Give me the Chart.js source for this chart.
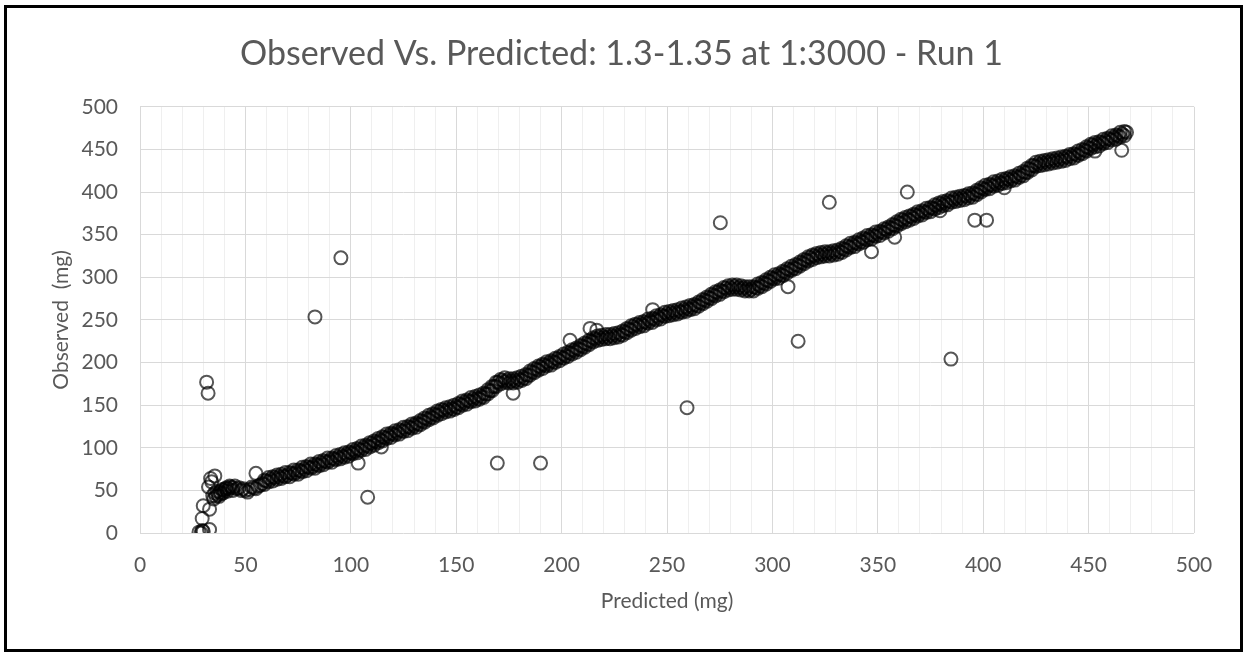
<!DOCTYPE html>
<html>
<head>
<meta charset="utf-8">
<title>Observed Vs. Predicted</title>
<script src="https://cdn.jsdelivr.net/npm/chart.js@4.4.1/dist/chart.umd.min.js"></script>
<style>
  html, body { margin: 0; padding: 0; background: #fff; }
  #wrap { position: relative; width: 1247px; height: 652px; }
  #frame {
    position: absolute; left: 4px; top: 5px; width: 1233px; height: 641px;
    border: 3px solid #000; pointer-events: none;
  }
</style>
</head>
<body>
<div id="wrap">
  <canvas id="scatter" width="1247" height="652"></canvas>
  <div id="frame"></div>
</div>
<script>
// main run of samples (predicted vs observed, mg)
const runPredicted = [
  34.5, 35, 35.5, 36, 36.5, 37, 38, 39, 40, 41,
  42, 43, 44, 46, 48, 50, 52, 54, 56, 58,
  60, 62, 64, 66, 68, 70, 72, 74, 76, 78,
  80, 82, 84, 86, 88, 90, 92, 94, 96, 98,
  100, 102, 104, 106, 108, 110, 112, 114, 116, 118,
  120, 122, 124, 126, 128, 130, 132, 134, 136, 138,
  140, 142, 144, 146, 148, 150, 152, 154, 156, 158,
  160, 162, 164, 166, 168, 170, 172, 174, 176, 178,
  180, 182, 184, 186, 188, 190, 192, 194, 196, 198,
  200, 202, 204, 206, 208, 210, 212, 214, 216, 218,
  220, 222, 224, 226, 228, 230, 232, 234, 236, 238,
  240, 242, 244, 246, 248, 250, 252, 254, 256, 258,
  260, 262, 264, 266, 268, 270, 272, 274, 276, 278,
  280, 282, 284, 286, 288, 290, 292, 294, 296, 298,
  300, 302, 304, 306, 308, 310, 312, 314, 316, 318,
  320, 322, 324, 326, 328, 330, 332, 334, 336, 338,
  340, 342, 344, 346, 348, 350, 352, 354, 356, 358,
  360, 362, 364, 366, 368, 370, 372, 374, 376, 378,
  380, 382, 384, 386, 388, 390, 392, 394, 396, 398,
  400, 402, 404, 406, 408, 410, 412, 414, 416, 418,
  420, 422, 424, 426, 428, 430, 432, 434, 436, 438,
  440, 442, 444, 446, 448, 450, 452, 454, 456, 458,
  460, 462, 464, 466, 468
];
const runObserved = [
  44, 40, 47, 43, 49, 45, 48, 51, 50, 53,
  52, 54, 53, 52, 50, 50, 51, 53, 55, 58,
  61, 63, 65, 66, 67, 68, 70, 71, 73, 75,
  77, 78, 80, 82, 84, 85, 87, 89, 90, 92,
  94, 96, 98, 100, 102, 105, 107, 109, 112, 114,
  116, 118, 120, 122, 124, 126, 128, 131, 134, 136,
  139, 142, 144, 145, 146, 148, 151, 153, 155, 157,
  158, 160, 163, 167, 172, 177, 179, 179, 178, 179,
  180, 182, 185, 189, 192, 195, 197, 199, 201, 204,
  206, 208, 211, 214, 216, 219, 222, 225, 228, 229,
  230, 230, 231, 232, 233, 236, 239, 242, 244, 245,
  247, 249, 251, 253, 255, 257, 258, 259, 260, 262,
  263, 265, 267, 270, 273, 276, 279, 282, 284, 287,
  288, 289, 288, 287, 286, 286, 288, 290, 293, 296,
  299, 301, 303, 306, 309, 311, 314, 317, 320, 323,
  325, 326, 327, 328, 328, 329, 330, 333, 336, 338,
  340, 342, 345, 347, 349, 351, 353, 356, 358, 361,
  364, 367, 368, 371, 373, 375, 377, 379, 381, 384,
  386, 387, 389, 391, 392, 393, 395, 396, 398, 401,
  404, 406, 408, 410, 411, 413, 415, 416, 418, 420,
  423, 427, 431, 433, 434, 435, 436, 437, 438, 439,
  441, 442, 444, 446, 449, 452, 455, 456, 458, 460,
  462, 464, 466, 468, 470
];

// extra readings at the low end of the run
const startPredicted = [
  37.5, 38.5, 39.5, 40.5, 41.5, 42.5, 44, 45, 47, 49,
  51, 53, 55, 57
];
const startObserved = [
  43, 46, 47, 52, 49, 55, 50, 55, 53, 52,
  48, 54, 52, 56
];

// samples between the ones above; two readings at each predicted value
const runPredicted2 = [
  59, 61, 63, 65, 67, 69, 71, 73, 75, 77,
  79, 81, 83, 85, 87, 89, 91, 93, 95, 97,
  99, 101, 103, 105, 107, 109, 111, 113, 115, 117,
  119, 121, 123, 125, 127, 129, 131, 133, 135, 137,
  139, 141, 143, 145, 147, 149, 151, 153, 155, 157,
  159, 161, 163, 165, 167, 169, 171, 173, 175, 177,
  179, 181, 183, 185, 187, 189, 191, 193, 195, 197,
  199, 201, 203, 205, 207, 209, 211, 213, 215, 217,
  219, 221, 223, 225, 227, 229, 231, 233, 235, 237,
  239, 241, 243, 245, 247, 249, 251, 253, 255, 257,
  259, 261, 263, 265, 267, 269, 271, 273, 275, 277,
  279, 281, 283, 285, 287, 289, 291, 293, 295, 297,
  299, 301, 303, 305, 307, 309, 311, 313, 315, 317,
  319, 321, 323, 325, 327, 329, 331, 333, 335, 337,
  339, 341, 343, 345, 347, 349, 351, 353, 355, 357,
  359, 361, 363, 365, 367, 369, 371, 373, 375, 377,
  379, 381, 383, 385, 387, 389, 391, 393, 395, 397,
  399, 401, 403, 405, 407, 409, 411, 413, 415, 417,
  419, 421, 423, 425, 427, 429, 431, 433, 435, 437,
  439, 441, 443, 445, 447, 449, 451, 453, 455, 457,
  459, 461, 463, 465, 467
];
const runObserved2 = [
  62, 60, 66, 63, 69, 66, 71, 69, 74, 72,
  78, 76, 81, 79, 85, 83, 88, 86, 92, 89,
  95, 93, 99, 97, 103, 101, 108, 106, 113, 111,
  117, 115, 121, 119, 125, 123, 129, 127, 135, 133,
  140, 138, 145, 142, 148, 145, 152, 150, 156, 154,
  160, 157, 164, 163, 172, 172, 180, 177, 181, 176,
  182, 179, 186, 185, 193, 191, 198, 196, 202, 200,
  207, 205, 212, 210, 217, 215, 223, 221, 229, 226,
  232, 228, 233, 229, 235, 232, 240, 238, 245, 242,
  248, 246, 252, 250, 256, 254, 260, 256, 262, 259,
  265, 262, 268, 266, 274, 272, 280, 278, 285, 283,
  290, 286, 291, 285, 289, 284, 289, 287, 294, 292,
  300, 298, 304, 302, 310, 308, 315, 313, 321, 319,
  326, 323, 329, 325, 330, 326, 332, 329, 337, 335,
  341, 339, 346, 344, 350, 348, 354, 352, 359, 357,
  365, 363, 370, 367, 374, 372, 378, 376, 382, 380,
  387, 384, 390, 388, 394, 390, 396, 393, 399, 397,
  405, 403, 409, 407, 413, 410, 416, 413, 419, 417,
  424, 423, 431, 430, 436, 432, 438, 434, 440, 436,
  442, 439, 445, 443, 450, 448, 456, 453, 459, 457,
  463, 461, 467, 465, 471
];
const runObserved3 = [
  57, 65, 61, 68, 64, 71, 66, 74, 69, 77,
  73, 81, 76, 84, 80, 88, 83, 91, 87, 94,
  90, 98, 94, 102, 98, 106, 103, 111, 108, 116,
  112, 120, 116, 124, 120, 128, 124, 132, 130, 138,
  135, 143, 140, 147, 143, 150, 147, 155, 151, 159,
  155, 162, 159, 168, 167, 177, 175, 182, 176, 181,
  177, 184, 181, 190, 188, 196, 193, 201, 197, 205,
  202, 210, 207, 215, 212, 220, 218, 226, 224, 231,
  227, 233, 228, 234, 230, 237, 235, 243, 240, 247,
  243, 251, 247, 255, 251, 259, 255, 261, 257, 264,
  260, 267, 263, 271, 269, 277, 275, 283, 280, 288,
  285, 291, 286, 290, 284, 289, 284, 292, 289, 297,
  295, 303, 299, 307, 305, 313, 310, 318, 316, 324,
  321, 328, 324, 330, 325, 331, 327, 334, 332, 340,
  336, 344, 341, 349, 345, 353, 349, 357, 354, 362,
  360, 368, 365, 372, 369, 377, 373, 381, 377, 385,
  382, 389, 385, 393, 389, 395, 391, 398, 394, 402,
  400, 408, 404, 412, 408, 415, 411, 418, 414, 422,
  419, 428, 426, 435, 431, 437, 433, 439, 435, 441,
  437, 444, 440, 448, 445, 453, 451, 458, 454, 462,
  458, 466, 462, 470, 466
];

// samples that fall away from the line
const offPredicted = [
  28, 29, 29.5, 30, 33, 29.5, 30, 33, 32.5, 34,
  33.5, 35.5, 31.6, 32.3, 55, 83, 95.3, 103.5, 108, 114.5,
  169.5, 177, 190, 204, 213.5, 216.7, 243.2, 259.5, 275.3, 307.4,
  312.2, 327, 347, 358, 364, 379.5, 384.7, 396, 401.6, 410,
  453, 465.7
];
const offObserved = [
  1, 0, 3, 2, 4, 17, 32, 28, 54, 60,
  64, 67, 177, 164, 70, 253.5, 322.8, 82, 42, 101,
  82, 164, 82, 226, 240, 238, 262, 147, 364, 289,
  225, 388, 330, 347, 400, 378, 204, 367, 367, 405,
  448, 449
];

const axisTicks = [0, 50, 100, 150, 200, 250, 300, 350, 400, 450, 500];

const toPoints = (xs, ys) => xs.map((x, i) => ({ x, y: ys[i] }));
const points = toPoints(runPredicted, runObserved)
  .concat(toPoints(startPredicted, startObserved))
  .concat(toPoints(runPredicted2, runObserved2))
  .concat(toPoints(runPredicted2, runObserved3))
  .concat(toPoints(offPredicted, offObserved));

const textColor = "#595959";
const fontFamily = "Lato, 'Open Sans', sans-serif";

const gridColor = (ctx) =>
  ctx.tick && axisTicks.includes(ctx.tick.value) ? "#d9d9d9" : "#efefef";

const tickLabel = (value) => (axisTicks.includes(value) ? String(value) : "");

new Chart(document.getElementById("scatter"), {
  type: "scatter",
  data: {
    datasets: [
      {
        data: points,
        pointStyle: "circle",
        pointRadius: 6.5,
        pointBorderWidth: 2,
        borderColor: "rgba(0,0,0,0.66)",
        backgroundColor: "rgba(0,0,0,0)",
      },
    ],
  },
  options: {
    responsive: false,
    animation: false,
    events: [],
    layout: { padding: { left: 49, right: 53, top: 0, bottom: 38 } },
    plugins: {
      legend: { display: false },
      tooltip: { enabled: false },
      title: {
        display: true,
        text: "Observed Vs. Predicted: 1.3-1.35 at 1:3000 - Run 1",
        color: textColor,
        font: { family: fontFamily, size: 34, weight: "normal" },
        padding: { top: 34, bottom: 32 },
      },
    },
    scales: {
      x: {
        type: "linear",
        min: 0,
        max: 500,
        afterFit: (scale) => { scale.height = 81; },
        border: { display: false },
        grid: { color: gridColor, drawTicks: false },
        ticks: {
          stepSize: 10,
          autoSkip: false,
          maxRotation: 0,
          padding: 20,
          color: textColor,
          font: { family: fontFamily, size: 21 },
          callback: tickLabel,
        },
        title: {
          display: true,
          text: "Predicted (mg)",
          color: textColor,
          font: { family: fontFamily, size: 21 },
          padding: 0,
        },
      },
      y: {
        type: "linear",
        min: 0,
        max: 500,
        afterFit: (scale) => { scale.width = 91; },
        border: { display: false },
        grid: { color: "#d9d9d9", drawTicks: false },
        ticks: {
          stepSize: 50,
          padding: 22,
          color: textColor,
          font: { family: fontFamily, size: 21 },
        },
        title: {
          display: true,
          text: "Observed  (mg)",
          color: textColor,
          font: { family: fontFamily, size: 21 },
          padding: 0,
        },
      },
    },
  },
});
</script>
</body>
</html>
